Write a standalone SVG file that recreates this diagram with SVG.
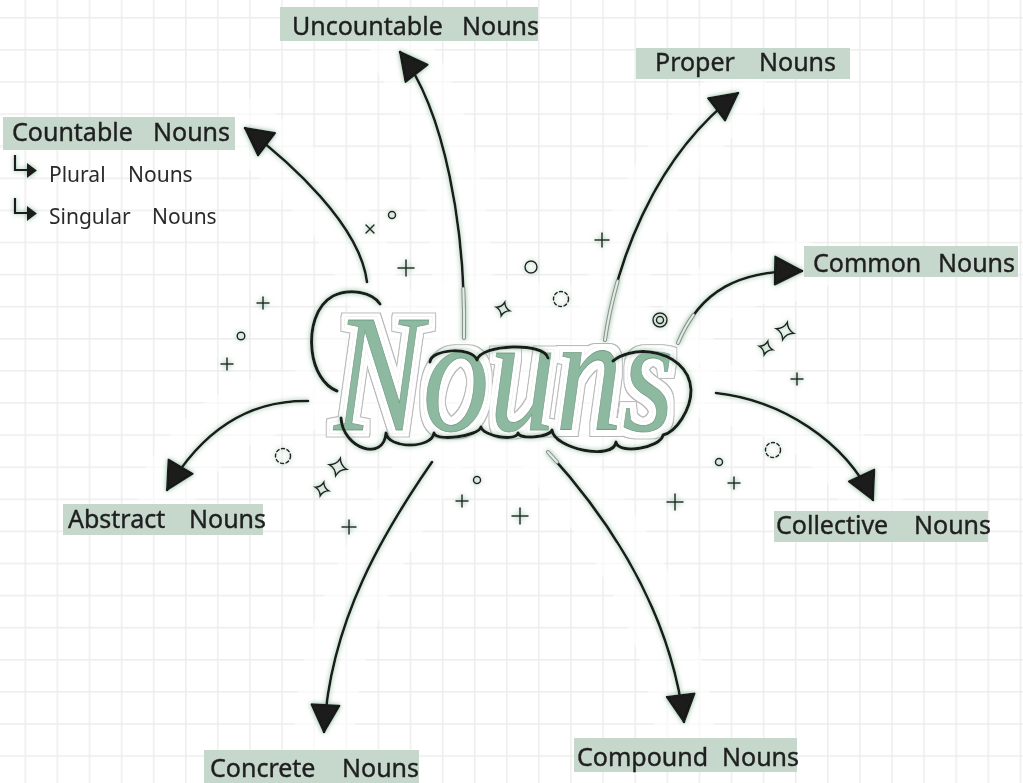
<svg xmlns="http://www.w3.org/2000/svg" width="1023" height="783" viewBox="0 0 1023 783">
<defs>
<style>
.lbl{fill:#c6d8cc}
.t{font-family:"Noto Sans","DejaVu Sans",sans-serif;font-size:25px;fill:#1f1f1f;stroke:#1f1f1f;stroke-width:0.4}
.s{font-family:"Noto Sans","DejaVu Sans",sans-serif;font-size:21px;fill:#2a2a2a}
.ln{fill:none;stroke:#1a1a1a;stroke-width:2.6;stroke-linecap:round;marker-end:url(#ah)}
.tail{fill:none;stroke:#8c918d;stroke-width:4;stroke-linecap:round}
.tailin{fill:none;stroke:#e2ece5;stroke-width:2;stroke-linecap:round}
.beam{fill:none;stroke:#ffffff;stroke-width:60;stroke-linecap:round;opacity:0.6}
.deco{fill:none;stroke:#222;stroke-width:1.5;stroke-linecap:round}
.dash{stroke-dasharray:3 2.6}
.cloud{fill:none;stroke:#1a1a1a;stroke-width:3;stroke-linecap:round;stroke-linejoin:round}
.bul{fill:none;stroke:#1a1a1a;stroke-width:2.2}
</style>
<pattern id="grid" patternUnits="userSpaceOnUse" x="24.5" y="17" width="32.1" height="32.1">
<rect x="0" y="0" width="32.1" height="1.5" fill="#ededed"/>
<rect x="0" y="0" width="1.5" height="32.1" fill="#ededed"/>
</pattern>
<filter id="glow" filterUnits="userSpaceOnUse" x="0" y="0" width="1023" height="783">
<feGaussianBlur in="SourceAlpha" stdDeviation="2.5" result="b"/>
<feFlood flood-color="#85b596" flood-opacity="0.95"/>
<feComposite in2="b" operator="in" result="g"/>
<feMerge><feMergeNode in="g"/><feMergeNode in="SourceGraphic"/></feMerge>
</filter>
<filter id="title-fx" filterUnits="userSpaceOnUse" x="270" y="250" width="480" height="230">
<feMorphology in="SourceAlpha" operator="dilate" radius="7" result="d7"/>
<feMorphology in="SourceAlpha" operator="dilate" radius="6" result="d6"/>
<feMorphology in="SourceAlpha" operator="dilate" radius="3.4" result="d3"/>
<feMorphology in="SourceAlpha" operator="dilate" radius="2.5" result="d2"/>
<feComposite in="d7" in2="d6" operator="out" result="r1"/>
<feComposite in="d3" in2="d2" operator="out" result="r2"/>
<feFlood flood-color="#ffffff" flood-opacity="0.8"/>
<feComposite in2="d7" operator="in" result="halo"/>
<feFlood flood-color="#b5b5b5"/>
<feComposite in2="r1" operator="in" result="ring1"/>
<feFlood flood-color="#c8c8c8"/>
<feComposite in2="r2" operator="in" result="ring2"/>
<feMerge><feMergeNode in="halo"/><feMergeNode in="ring1"/><feMergeNode in="ring2"/><feMergeNode in="SourceGraphic"/></feMerge>
</filter>
<marker id="ah" viewBox="0 0 32 32" refX="30" refY="16" markerWidth="32" markerHeight="32" markerUnits="userSpaceOnUse" orient="auto">
<path d="M3,2 L30,16 L3,30 Z" fill="#1a1a1a" stroke="#1a1a1a" stroke-width="2" stroke-linejoin="round"/>
</marker>
<path id="spk" d="M0,-9 Q2,-2 9,0 Q2,2 0,9 Q-2,2 -9,0 Q-2,-2 0,-9Z"/>
<path id="spk2" d="M0,-7 Q1.6,-1.6 7,0 Q1.6,1.6 0,7 Q-1.6,1.6 -7,0 Q-1.6,-1.6 0,-7Z"/>
</defs>

<rect x="0" y="0" width="1023" height="783" fill="#ffffff"/>
<rect x="0" y="0" width="1023" height="783" fill="url(#grid)"/>

<g id="beams">
<path class="beam" d="M367,282 C360,225 290,162 245,128"/>
<path class="beam" d="M464,338 C466,230 445,110 400,52"/>
<path class="beam" d="M605,340 C615,270 650,160 738,93"/>
<path class="beam" d="M678,343 C700,290 740,270 802,271"/>
<path class="beam" d="M716,393 C780,400 845,440 873,500"/>
<path class="beam" d="M548,452 C610,520 670,610 684,722"/>
<path class="beam" d="M432,462 C385,530 330,620 324,732"/>
<path class="beam" d="M308,401 C255,400 205,425 167,490"/>
<ellipse cx="505" cy="375" rx="210" ry="95" fill="#ffffff" opacity="0.55"/>
</g>

<g id="decorations" filter="url(#glow)">
<path class="deco" d="M366,225 l8,8 M374,225 l-8,8"/>
<circle class="deco" cx="392" cy="215" r="3.5"/>
<path class="deco" d="M398,268 h16 M406,260 v16"/>
<path class="deco" d="M257,303 h12 M263,297 v12"/>
<circle class="deco" cx="241" cy="336" r="3.8"/>
<path class="deco" d="M221,364 h12 M227,358 v12"/>
<circle class="deco" cx="531" cy="267" r="6"/>
<circle class="deco dash" cx="561" cy="299" r="7.5"/>
<use href="#spk2" class="deco" transform="translate(503,309) rotate(15)"/>
<path class="deco" d="M595,240 h14 M602,233 v14"/>
<circle class="deco" cx="660" cy="320" r="7"/>
<circle class="deco" cx="660" cy="320" r="3.5"/>
<use href="#spk" class="deco" transform="translate(785,331) rotate(15)"/>
<use href="#spk2" class="deco" transform="translate(766,348) rotate(15)"/>
<path class="deco" d="M791,379 h12 M797,373 v12"/>
<circle class="deco dash" cx="283" cy="456" r="7.5"/>
<use href="#spk" class="deco" transform="translate(338,467) rotate(15)"/>
<use href="#spk2" class="deco" transform="translate(322,489) rotate(15)"/>
<path class="deco" d="M342,527 h14 M349,520 v14"/>
<circle class="deco" cx="477" cy="480" r="3.5"/>
<path class="deco" d="M456,501 h12 M462,495 v12"/>
<path class="deco" d="M512,516 h16 M520,508 v16"/>
<path class="deco" d="M667,502 h16 M675,494 v16"/>
<circle class="deco" cx="719" cy="462" r="3.5"/>
<path class="deco" d="M728,483 h12 M734,477 v12"/>
<circle class="deco dash" cx="773" cy="450" r="7.5"/>
</g>

<g id="connectors" filter="url(#glow)">
<path class="ln" d="M367,282 C360,225 290,162 245,128"/>
<path class="ln" d="M464,338 C466,230 445,110 400,52"/>
<path class="ln" d="M605,340 C615,270 650,160 738,93"/>
<path class="ln" d="M678,343 C700,290 740,270 802,271"/>
<path class="ln" d="M716,393 C780,400 845,440 873,500"/>
<path class="ln" d="M548,452 C610,520 670,610 684,722"/>
<path class="ln" d="M432,462 C385,530 330,620 324,732"/>
<path class="ln" d="M308,401 C255,400 205,425 167,490"/>
<path class="tail" d="M464,338 C464.3,321.8 464.1,305.3 463.3,288.8"/>
<path class="tailin" d="M464,338 C464.3,321.8 464.1,305.3 463.3,288.8"/>
<path class="tail" d="M605,340 C607.5,322.5 611.6,302.5 617.6,281.3"/>
<path class="tailin" d="M605,340 C607.5,322.5 611.6,302.5 617.6,281.3"/>
<path class="tail" d="M678,343 C682.4,332.4 687.5,323.1 693.4,315"/>
<path class="tailin" d="M678,343 C682.4,332.4 687.5,323.1 693.4,315"/>
<path class="tail" d="M548,452 L557,462"/>
<path class="tailin" d="M548,452 L557,462"/>
</g>

<g id="node-nouns">
<text x="334" y="430" textLength="340" lengthAdjust="spacingAndGlyphs" filter="url(#title-fx)" style="font-family:'Liberation Serif','DejaVu Serif',serif;font-style:italic;font-weight:normal;font-size:168px;fill:#8cb9a0;stroke:#6f9c82;stroke-width:0.8">Nouns</text>
<g filter="url(#glow)">
<path class="cloud" d="M380,304 C372,292 350,288 333,296 C315,306 310,330 312,350 C314,370 324,386 337,391"/>
<path class="cloud" d="M341,418 C343,449 384,462 386,433 C388,449 432,449 434,433 C436,442 479,436 481,427 C483,436 516,442 518,433 C520,440 550,437 552,430 C554,449 614,461 616,442 C618,455 661,448 663,435 C676,432 691,410 691,390 C690,368 672,355 650,352 C635,350 620,355 613,361"/>
<path class="cloud" d="M430,362 C431,349 472,346 477,360 C481,344 544,342 548,358"/>
</g>
</g>

<g id="node-countable">
<rect class="lbl" x="3" y="117" width="232" height="33"/>
<text class="t" y="141"><tspan x="12">Countable</tspan> <tspan x="153">Nouns</tspan></text>
</g>
<g id="node-plural">
<g filter="url(#glow)">
<path class="bul" d="M15,155 V170 H28"/>
<path d="M27,163 L37,170.5 L27,178 Z" fill="#1a1a1a"/>
</g>
<text class="s" y="182"><tspan x="49">Plural</tspan> <tspan x="128">Nouns</tspan></text>
</g>
<g id="node-singular">
<g filter="url(#glow)">
<path class="bul" d="M15,198 V213 H28"/>
<path d="M27,206 L37,213.5 L27,221 Z" fill="#1a1a1a"/>
</g>
<text class="s" y="224"><tspan x="49">Singular</tspan> <tspan x="152">Nouns</tspan></text>
</g>
<g id="node-uncountable">
<rect class="lbl" x="280" y="7" width="258" height="34"/>
<text class="t" y="35"><tspan x="292">Uncountable</tspan> <tspan x="462">Nouns</tspan></text>
</g>
<g id="node-proper">
<rect class="lbl" x="636" y="48" width="214" height="31"/>
<text class="t" y="71"><tspan x="655">Proper</tspan> <tspan x="759">Nouns</tspan></text>
</g>
<g id="node-common">
<rect class="lbl" x="804" y="246" width="214" height="31"/>
<text class="t" y="272"><tspan x="813">Common</tspan> <tspan x="938">Nouns</tspan></text>
</g>
<g id="node-collective">
<rect class="lbl" x="774" y="511" width="214" height="31"/>
<text class="t" y="534"><tspan x="776">Collective</tspan> <tspan x="914">Nouns</tspan></text>
</g>
<g id="node-abstract">
<rect class="lbl" x="63" y="504" width="200" height="31"/>
<text class="t" y="528"><tspan x="68">Abstract</tspan> <tspan x="189">Nouns</tspan></text>
</g>
<g id="node-concrete">
<rect class="lbl" x="204" y="750" width="215" height="33"/>
<text class="t" y="777"><tspan x="210">Concrete</tspan> <tspan x="342">Nouns</tspan></text>
</g>
<g id="node-compound">
<rect class="lbl" x="574" y="738" width="223" height="34"/>
<text class="t" y="766"><tspan x="577">Compound</tspan> <tspan x="722">Nouns</tspan></text>
</g>
</svg>
